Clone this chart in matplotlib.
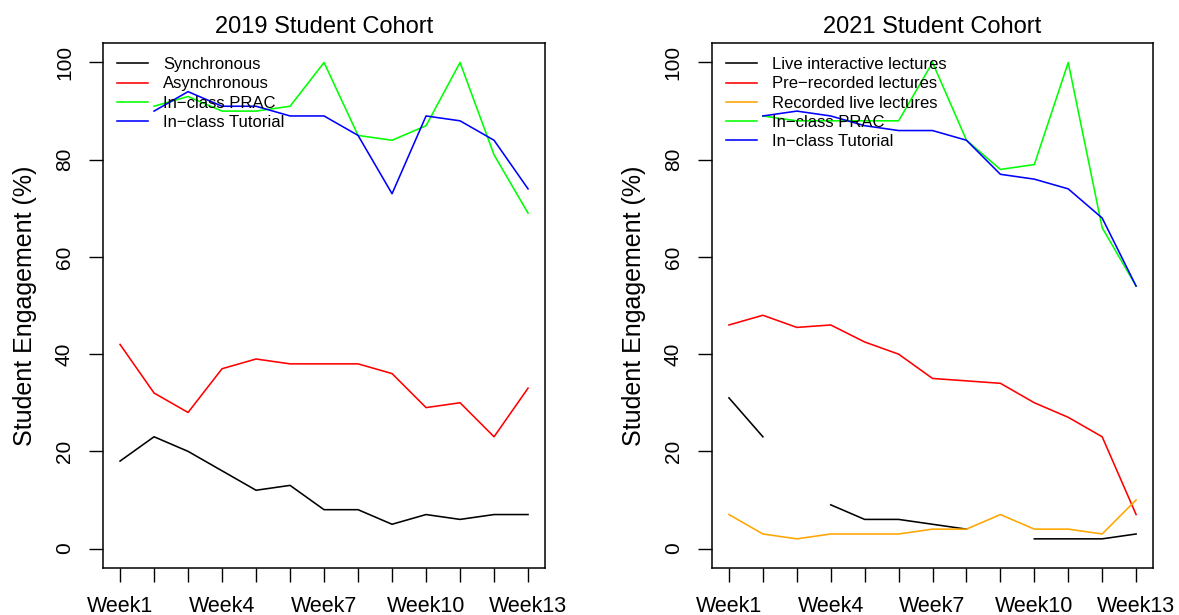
import numpy as np
import matplotlib
matplotlib.use("Agg")
import matplotlib.pyplot as plt

plt.rcParams["font.family"] = ["Liberation Sans", "DejaVu Sans"]

nan = np.nan
weeks = [f"Week{i}" for i in range(1, 14)]
shown_weeks = ["Week1", "Week4", "Week7", "Week10", "Week13"]

# 2019 cohort
sync_2019 = [18, 23, 20, 16, 12, 13, 8, 8, 5, 7, 6, 7, 7]
async_2019 = [42, 32, 28, 37, 39, 38, 38, 38, 36, 29, 30, 23, 33]
prac_2019 = [nan, 91, 93, 90, 90, 91, 100, 85, 84, 87, 100, 81, 69]
tut_2019 = [nan, 90, 94, 91, 91, 89, 89, 85, 73, 89, 88, 84, 74]

# 2021 cohort
live_2021 = [31, 23, nan, 9, 6, 6, 5, 4, nan, 2, 2, 2, 3]
prerec_2021 = [46, 48, 45.5, 46, 42.5, 40, 35, 34.5, 34, 30, 27, 23, 7]
reclive_2021 = [7, 3, 2, 3, 3, 3, 4, 4, 7, 4, 4, 3, 10]
prac_2021 = [nan, 89, 88, 88, 88, 88, 100, 84, 78, 79, 100, 66, 54]
tut_2021 = [nan, 89, 90, 89, 87, 86, 86, 84, 77, 76, 74, 68, 54]

panels = [
    ("2019 Student Cohort",
     [("Synchronous", sync_2019, "black"),
      ("Asynchronous", async_2019, "red"),
      ("In\u2212class PRAC", prac_2019, "#00ff00"),
      ("In\u2212class Tutorial", tut_2019, "blue")]),
    ("2021 Student Cohort",
     [("Live interactive lectures", live_2021, "black"),
      ("Pre\u2212recorded lectures", prerec_2021, "red"),
      ("Recorded live lectures", reclive_2021, "orange"),
      ("In\u2212class PRAC", prac_2021, "#00ff00"),
      ("In\u2212class Tutorial", tut_2021, "blue")]),
]

fig = plt.figure(figsize=(11.79, 6.15), dpi=100)
axes_pos = [[0.0874, 0.0764, 0.3749, 0.8536], [0.6039, 0.0764, 0.3741, 0.8536]]

x = np.arange(1, len(weeks) + 1)
for pos, (title, series) in zip(axes_pos, panels):
    ax = fig.add_axes(pos)
    for label, vals, col in series:
        ax.plot(x, vals, color=col, lw=1.15, label=label)
    ax.set_xlim(0.5, 13.5)
    ax.set_ylim(-4, 104)
    ax.set_xticks(x)
    ax.set_xticklabels([w if w in shown_weeks else "" for w in weeks])
    ax.set_yticks([0, 20, 40, 60, 80, 100])
    ax.tick_params(axis="both", length=10, width=1, pad=11)
    ax.tick_params(axis="x", labelsize=15.5, pad=10)
    ax.tick_params(axis="y", labelsize=15, labelrotation=90)
    for t in ax.get_yticklabels():
        t.set_va("center")
    for s in ax.spines.values():
        s.set_linewidth(1.1)
    ax.set_title(title, fontsize=17, pad=7)
    ax.set_ylabel("Student Engagement (%)", fontsize=18, labelpad=13)
    leg = ax.legend(loc="upper left", borderaxespad=0, fontsize=12,
                    fancybox=False, edgecolor="black", framealpha=0,
                    handlelength=1.85, handletextpad=0.9, labelspacing=0.25,
                    borderpad=0.85)
    leg.get_frame().set_linewidth(1.1)

fig.savefig("out.png", dpi=100)
